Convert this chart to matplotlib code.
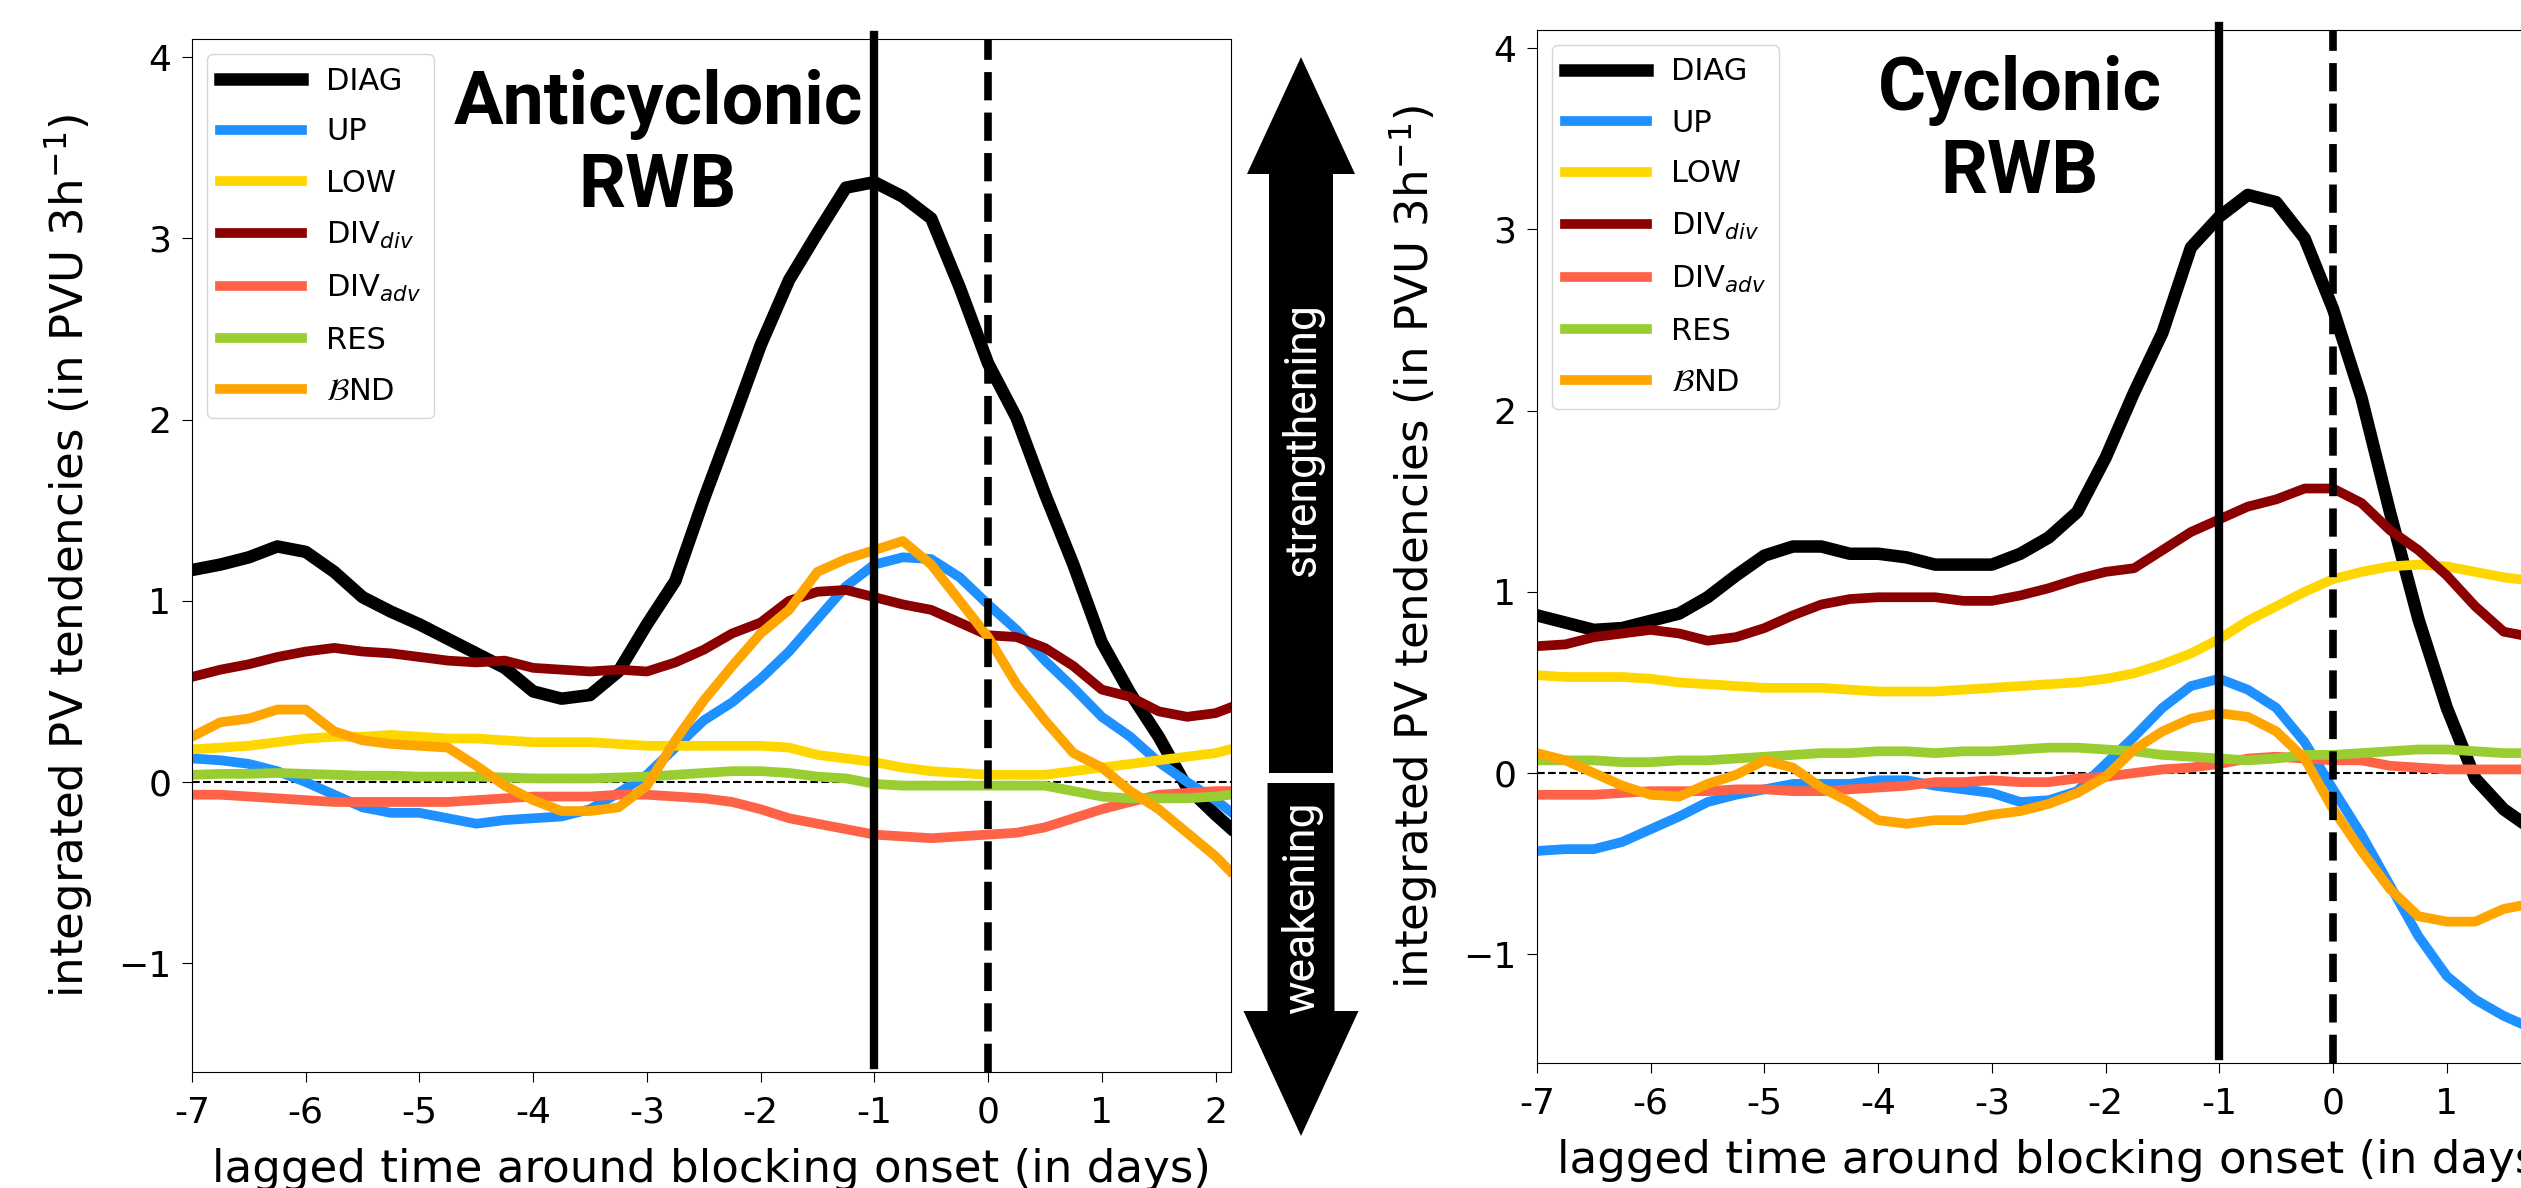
import numpy as np
import matplotlib
matplotlib.use("Agg")
import matplotlib.pyplot as plt
from matplotlib.patches import FancyArrow

# lagged time around blocking onset (days), 6-hourly samples
days_acyc = list(np.arange(-7.0, 2.01, 0.25)) + [2.125]
days_cyc = list(np.arange(-7.0, 1.76, 0.25))

names = ['DIAG', 'UP', 'LOW', 'DIV$_{div}$', 'DIV$_{adv}$', 'RES', r'$\mathcal{B}$ND']
colors = ['black', 'dodgerblue', 'gold', 'darkred', 'tomato', 'yellowgreen', 'orange']

# anticyclonic RWB composites
acyc_diag = [1.17, 1.20, 1.24, 1.30, 1.27, 1.16, 1.02, 0.94, 0.87, 0.79, 0.71, 0.63, 0.50, 0.46, 0.48,
             0.61, 0.87, 1.11, 1.56, 1.98, 2.41, 2.77, 3.03, 3.28, 3.31, 3.23, 3.11, 2.73, 2.31, 2.01,
             1.59, 1.20, 0.77, 0.49, 0.25, -0.03, -0.18, -0.25]
acyc_up = [0.13, 0.12, 0.10, 0.06, 0.00, -0.07, -0.14, -0.17, -0.17, -0.20, -0.23, -0.21, -0.20, -0.19,
           -0.15, -0.06, 0.04, 0.19, 0.34, 0.44, 0.57, 0.72, 0.90, 1.08, 1.20, 1.24, 1.23, 1.13, 0.98,
           0.84, 0.67, 0.52, 0.36, 0.25, 0.11, 0.00, -0.10, -0.16]
acyc_low = [0.18, 0.19, 0.20, 0.22, 0.24, 0.25, 0.25, 0.26, 0.25, 0.24, 0.24, 0.23, 0.22, 0.22, 0.22,
            0.21, 0.20, 0.20, 0.20, 0.20, 0.20, 0.19, 0.15, 0.13, 0.11, 0.08, 0.06, 0.05, 0.04, 0.04,
            0.04, 0.06, 0.08, 0.10, 0.12, 0.14, 0.16, 0.18]
acyc_divdiv = [0.58, 0.62, 0.65, 0.69, 0.72, 0.74, 0.72, 0.71, 0.69, 0.67, 0.66, 0.67, 0.63, 0.62, 0.61,
               0.62, 0.61, 0.66, 0.73, 0.82, 0.88, 1.00, 1.05, 1.06, 1.02, 0.98, 0.95, 0.88, 0.81, 0.80,
               0.74, 0.64, 0.51, 0.47, 0.39, 0.36, 0.38, 0.41]
acyc_divadv = [-0.07, -0.07, -0.08, -0.09, -0.10, -0.11, -0.11, -0.11, -0.11, -0.11, -0.10, -0.09, -0.08,
               -0.08, -0.08, -0.07, -0.07, -0.08, -0.09, -0.11, -0.15, -0.20, -0.23, -0.26, -0.29, -0.30,
               -0.31, -0.30, -0.29, -0.28, -0.25, -0.20, -0.15, -0.11, -0.07, -0.06, -0.05, -0.05]
acyc_res = [0.04, 0.045, 0.045, 0.05, 0.045, 0.04, 0.035, 0.035, 0.03, 0.03, 0.03, 0.025, 0.02, 0.02,
            0.02, 0.025, 0.03, 0.04, 0.05, 0.06, 0.06, 0.05, 0.03, 0.02, -0.01, -0.02, -0.02, -0.02,
            -0.02, -0.02, -0.02, -0.05, -0.08, -0.09, -0.09, -0.09, -0.08, -0.07]
acyc_bnd = [0.25, 0.33, 0.35, 0.40, 0.40, 0.28, 0.23, 0.21, 0.20, 0.19, 0.09, -0.02, -0.10, -0.16, -0.16,
            -0.14, -0.02, 0.23, 0.45, 0.64, 0.82, 0.95, 1.16, 1.23, 1.28, 1.33, 1.20, 1.00, 0.80, 0.54,
            0.34, 0.16, 0.08, -0.05, -0.15, -0.28, -0.41, -0.49]

# cyclonic RWB composites
cyc_diag = [0.87, 0.83, 0.79, 0.80, 0.84, 0.88, 0.97, 1.09, 1.20, 1.25, 1.25, 1.21, 1.21, 1.19, 1.15,
            1.15, 1.15, 1.21, 1.30, 1.44, 1.74, 2.10, 2.43, 2.90, 3.07, 3.19, 3.15, 2.95, 2.56, 2.07,
            1.44, 0.85, 0.36, -0.03, -0.20, -0.31]
cyc_up = [-0.43, -0.42, -0.42, -0.38, -0.31, -0.24, -0.16, -0.12, -0.09, -0.06, -0.06, -0.06, -0.04, -0.04,
          -0.07, -0.09, -0.11, -0.16, -0.15, -0.10, 0.05, 0.20, 0.36, 0.48, 0.52, 0.46, 0.36, 0.17, -0.09,
          -0.34, -0.62, -0.90, -1.12, -1.25, -1.34, -1.41]
cyc_low = [0.54, 0.53, 0.53, 0.53, 0.52, 0.50, 0.49, 0.48, 0.47, 0.47, 0.47, 0.46, 0.45, 0.45, 0.45, 0.46,
           0.47, 0.48, 0.49, 0.50, 0.52, 0.55, 0.60, 0.66, 0.74, 0.84, 0.92, 1.00, 1.07, 1.11, 1.14, 1.15,
           1.14, 1.11, 1.08, 1.06]
cyc_divdiv = [0.70, 0.71, 0.75, 0.77, 0.79, 0.77, 0.73, 0.75, 0.80, 0.87, 0.93, 0.96, 0.97, 0.97, 0.97,
              0.95, 0.95, 0.98, 1.02, 1.07, 1.11, 1.13, 1.23, 1.33, 1.40, 1.47, 1.51, 1.57, 1.57, 1.49,
              1.34, 1.23, 1.09, 0.92, 0.78, 0.75]
cyc_divadv = [-0.12, -0.12, -0.12, -0.11, -0.10, -0.10, -0.10, -0.09, -0.09, -0.10, -0.10, -0.09, -0.08,
              -0.07, -0.05, -0.05, -0.04, -0.05, -0.05, -0.03, -0.02, 0.00, 0.02, 0.03, 0.05, 0.08, 0.09,
              0.08, 0.07, 0.07, 0.04, 0.03, 0.02, 0.02, 0.02, 0.02]
cyc_res = [0.07, 0.07, 0.07, 0.06, 0.06, 0.07, 0.07, 0.08, 0.09, 0.10, 0.11, 0.11, 0.12, 0.12, 0.11, 0.12,
           0.12, 0.13, 0.14, 0.14, 0.13, 0.12, 0.10, 0.09, 0.08, 0.07, 0.08, 0.10, 0.10, 0.11, 0.12, 0.13,
           0.13, 0.12, 0.11, 0.11]
cyc_bnd = [0.11, 0.07, 0.00, -0.07, -0.12, -0.13, -0.06, -0.01, 0.07, 0.03, -0.08, -0.16, -0.26, -0.28,
           -0.26, -0.26, -0.23, -0.21, -0.17, -0.11, -0.02, 0.13, 0.23, 0.30, 0.33, 0.31, 0.23, 0.08, -0.20,
           -0.43, -0.64, -0.79, -0.82, -0.82, -0.75, -0.72]

acyc = [acyc_diag, acyc_up, acyc_low, acyc_divdiv, acyc_divadv, acyc_res, acyc_bnd]
cyc = [cyc_diag, cyc_up, cyc_low, cyc_divdiv, cyc_divadv, cyc_res, cyc_bnd]

W, H = 2521, 1188
fig = plt.figure(figsize=(W / 100, H / 100), dpi=100)
ax1 = fig.add_axes([192 / W, 1 - 1072 / H, 1039 / W, 1033 / H])
ax2 = fig.add_axes([1537 / W, 1 - 1063 / H, 1039 / W, 1033 / H])


def panel(ax, days, series, title, tx, ty):
    ax.axhline(0, color='k', ls='--', lw=1.5, zorder=1)
    for lab, col, vals in zip(names, colors, series):
        ax.plot(days, vals, color=col, lw=9 if lab == 'DIAG' else 7, label=lab, zorder=2)
    ax.plot([-1, -1], [-1.56, 4.12], color='k', lw=6, clip_on=False, zorder=3)
    ax.axvline(0, color='k', ls='--', lw=5.5, zorder=3)
    ax.set_xlim(-7, 2.136)
    ax.set_ylim(-1.6, 4.1)
    ax.set_xticks(range(-7, 3))
    ax.set_xticklabels([str(t) for t in range(-7, 3)])
    ax.set_yticks(range(-1, 5))
    ax.tick_params(labelsize=26, length=7)
    ax.tick_params(axis='x', pad=10)
    ax.tick_params(axis='y', pad=8)
    ax.set_xlabel('lagged time around blocking onset (in days)', fontsize=32.5, labelpad=13)
    ax.set_ylabel('integrated PV tendencies (in PVU 3h$^{-1}$)', fontsize=32.5)
    ax.yaxis.set_label_coords(-0.093, 0.5)
    ax.legend(loc='upper left', fontsize=22, handlelength=2.7, labelspacing=0.72)
    # first line sits above, va='baseline' pins the last line ("RWB")
    ax.text(tx, ty, title, transform=ax.transAxes, ha='center', va='baseline',
            fontsize=53, fontweight='bold', family='Roboto', linespacing=1.22)


panel(ax1, days_acyc, acyc, 'Anticyclonic\nRWB', 0.4485, 0.8374)
panel(ax2, days_cyc, cyc, 'Cyclonic\nRWB', 0.4645, 0.8422)

# strengthening / weakening arrows between the panels
ov = fig.add_axes([0, 0, 1, 1], zorder=5)
ov.set_xlim(0, W)
ov.set_ylim(H, 0)
ov.axis('off')
ov.add_patch(FancyArrow(1301, 773, 0, -716, width=64, head_width=108, head_length=117,
                        length_includes_head=True, color='k', lw=0))
ov.add_patch(FancyArrow(1301, 783, 0, 353, width=67, head_width=115, head_length=125,
                        length_includes_head=True, color='k', lw=0))
ov.text(1302, 439, 'strengthening', rotation=90, color='w', ha='center', va='center',
        fontsize=32, family='Roboto')
ov.text(1302, 908, 'weakening', rotation=90, color='w', ha='center', va='center',
        fontsize=32, family='Roboto')

fig.savefig('out.png', dpi=100)
